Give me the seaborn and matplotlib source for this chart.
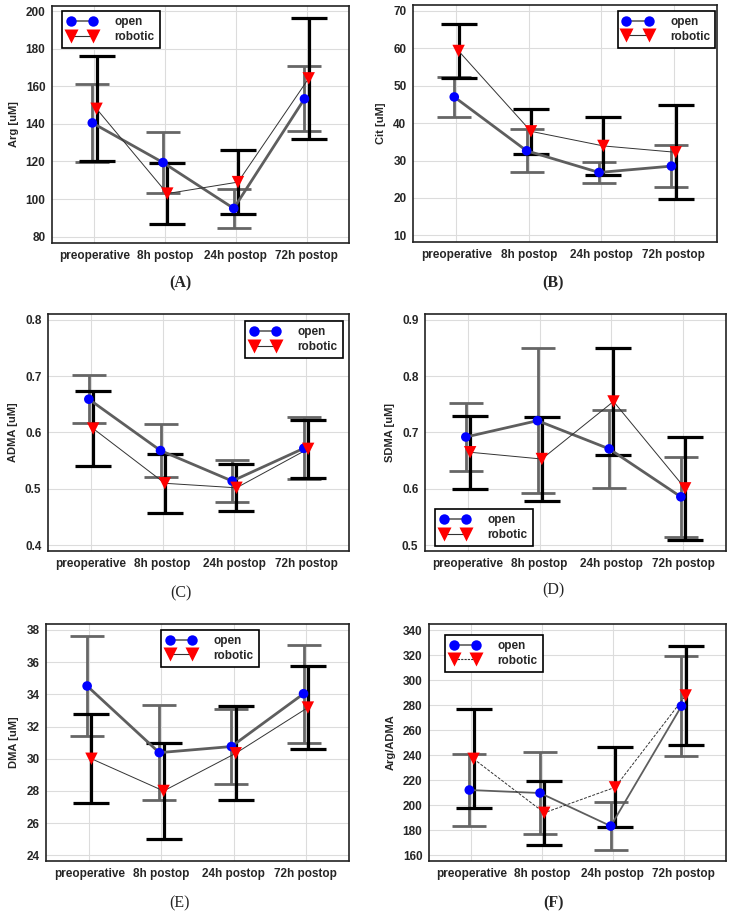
import numpy as np
import pandas as pd
import seaborn as sns
import matplotlib
matplotlib.use("Agg")
import matplotlib.pyplot as plt
from matplotlib.lines import Line2D
from matplotlib.ticker import AutoMinorLocator, MultipleLocator

# ---------------- data ----------------
categories = ["preoperative", "8h postop", "24h postop", "72h postop"]

arg_open = [140.5, 119.4, 95.0, 153.3]
arg_open_err = [20.8, 16.3, 10.4, 17.3]
arg_rob = [148.0, 102.9, 109.0, 164.2]
arg_rob_err = [28.0, 16.0, 17.2, 32.2]

cit_open = [47.0, 32.6, 26.8, 28.5]
cit_open_err = [5.35, 5.8, 2.7, 5.7]
cit_rob = [59.3, 37.8, 33.9, 32.2]
cit_rob_err = [7.25, 6.0, 7.7, 12.6]

adma_open = [0.659, 0.568, 0.514, 0.572]
adma_open_err = [0.043, 0.047, 0.037, 0.055]
adma_rob = [0.607, 0.510, 0.502, 0.571]
adma_rob_err = [0.067, 0.052, 0.042, 0.052]

sdma_open = [0.692, 0.721, 0.671, 0.586]
sdma_open_err = [0.061, 0.128, 0.069, 0.071]
sdma_rob = [0.665, 0.653, 0.755, 0.601]
sdma_rob_err = [0.065, 0.075, 0.095, 0.091]

dma_open = [34.52, 30.38, 30.76, 34.04]
dma_open_err = [3.13, 2.94, 2.35, 3.04]
dma_rob = [30.0, 28.0, 30.34, 33.18]
dma_rob_err = [2.77, 3.01, 2.92, 2.58]

ratio_open = [212.2, 209.8, 183.4, 279.2]
ratio_open_err = [28.5, 32.8, 19.4, 40.2]
ratio_rob = [237.1, 194.0, 214.3, 287.7]
ratio_rob_err = [39.5, 25.6, 32.0, 39.5]

# ---------------- style ----------------
sns.set_style("white")
plt.rcParams["font.family"] = ["Liberation Sans", "DejaVu Sans"]
plt.rcParams["font.weight"] = "bold"

fig = plt.figure(figsize=(7.35, 9.11), dpi=100)
W, H = 735, 911

def axes_px(l, r, t, b):
    return fig.add_axes([l / W, (H - b) / H, (r - l) / W, (b - t) / H])

panels = [
    dict(ax=axes_px(52, 349, 6, 243), ylab="Arg [uM]", o=arg_open, oe=arg_open_err,
         r=arg_rob, re=arg_rob_err, ylim=(76.6, 202.7), major=20,
         leg=dict(loc="upper left", bbox_to_anchor=(0.034, 0.979)),
         cap="(A)", capxy=(180, 283), bold=True, dashed=False, olw=2.0),
    dict(ax=axes_px(413, 717, 5, 242), ylab="Cit [uM]", o=cit_open, oe=cit_open_err,
         r=cit_rob, re=cit_rob_err, ylim=(8.2, 71.6), major=10,
         leg=dict(loc="upper right", bbox_to_anchor=(0.995, 0.975)),
         cap="(B)", capxy=(553, 283), bold=True, dashed=False, olw=2.0),
    dict(ax=axes_px(48, 349, 314, 551), ylab="ADMA [uM]", o=adma_open, oe=adma_open_err,
         r=adma_rob, re=adma_rob_err, ylim=(0.39, 0.81), major=0.1,
         leg=dict(loc="upper right", bbox_to_anchor=(0.980, 0.970)),
         cap="(C)", capxy=(181, 593), bold=False, dashed=False, olw=2.0),
    dict(ax=axes_px(425, 726, 314, 551), ylab="SDMA [uM]", o=sdma_open, oe=sdma_open_err,
         r=sdma_rob, re=sdma_rob_err, ylim=(0.49, 0.91), major=0.1,
         leg=dict(loc="lower left", bbox_to_anchor=(0.033, 0.021)),
         cap="(D)", capxy=(553, 590), bold=False, dashed=False, olw=2.0),
    dict(ax=axes_px(46, 349, 624, 861), ylab="DMA [uM]", o=dma_open, oe=dma_open_err,
         r=dma_rob, re=dma_rob_err, ylim=(23.65, 38.37), major=2,
         leg=dict(loc="upper left", bbox_to_anchor=(0.380, 0.975)),
         cap="(E)", capxy=(180, 903), bold=False, dashed=False, olw=2.0),
    dict(ax=axes_px(429, 726, 624, 861), ylab="Arg/ADMA", o=ratio_open, oe=ratio_open_err,
         r=ratio_rob, re=ratio_rob_err, ylim=(155.5, 344.8), major=20,
         leg=dict(loc="upper left", bbox_to_anchor=(0.054, 0.954)),
         cap="(F)", capxy=(553, 903), bold=True, dashed=True, olw=1.3),
]

GRAY_ERR = "#666666"
OPEN_LINE = "#5e5e5e"
ROB_LINE = "#333333"
x_idx = np.arange(len(categories))
off = 0.03

for p in panels:
    ax = p["ax"]
    df = pd.DataFrame({
        "x": np.concatenate([x_idx - off, x_idx + off]),
        "value": list(p["o"]) + list(p["r"]),
        "err": list(p["oe"]) + list(p["re"]),
        "group": ["open"] * 4 + ["robotic"] * 4,
    })
    do = df[df.group == "open"]
    dr = df[df.group == "robotic"]

    ax.grid(True, color="#dcdcdc", lw=0.8, zorder=0)
    ax.set_axisbelow(True)

    # error bars
    ax.errorbar(do["x"], do["value"], yerr=do["err"], fmt="none", ecolor=GRAY_ERR,
                elinewidth=2.0, capsize=12, capthick=2.0, zorder=2)
    ax.errorbar(dr["x"], dr["value"], yerr=dr["err"], fmt="none", ecolor="black",
                elinewidth=2.3, capsize=13, capthick=2.3, zorder=2.5)

    # lines
    sns.lineplot(data=do, x="x", y="value", color=OPEN_LINE, lw=p["olw"], ax=ax,
                 zorder=3, legend=False, sort=False)
    sns.lineplot(data=dr, x="x", y="value", color=ROB_LINE, lw=0.7, ax=ax,
                 zorder=3.1, legend=False, sort=False)
    if p["dashed"]:
        ax.lines[-1].set_linestyle((0, (3, 1.5)))

    # markers
    sns.scatterplot(data=do, x="x", y="value", marker="o", color="#0000ff", s=48,
                    edgecolor="none", ax=ax, zorder=4, legend=False)
    sns.scatterplot(data=dr, x="x", y="value", marker="v", color="#ff0000", s=80,
                    edgecolor="none", ax=ax, zorder=5, legend=False)

    ax.set_xlim(-0.6, 3.6)
    ax.set_ylim(*p["ylim"])
    ax.set_xticks(x_idx)
    ax.set_xticklabels(categories, fontsize=8.5, fontweight="bold")
    ax.yaxis.set_major_locator(MultipleLocator(p["major"]))
    ax.yaxis.set_minor_locator(AutoMinorLocator(2))
    for lab in ax.get_yticklabels():
        lab.set_fontsize(8.5)
        lab.set_fontweight("bold")
    ax.tick_params(axis="both", which="major", direction="out", length=3.5, width=1.0,
                   color="#222222", pad=1.2, labelsize=8.5)
    ax.tick_params(axis="y", which="minor", direction="out", length=2.2, width=0.8,
                   color="#222222")
    ax.tick_params(axis="x", which="minor", bottom=False)
    ax.set_xlabel("")
    ax.set_ylabel(p["ylab"], fontsize=8, fontweight="bold", labelpad=5)
    for sp in ax.spines.values():
        sp.set_visible(True)
        sp.set_color("#222222")
        sp.set_linewidth(1.2)

    # legend
    h_open = Line2D([], [], color=OPEN_LINE, lw=1.2, marker="o", markersize=7.5,
                    markerfacecolor="#0000ff", markeredgecolor="none")
    h_rob = Line2D([], [], color=ROB_LINE, lw=0.8, marker="v", markersize=10,
                   markerfacecolor="#ff0000", markeredgecolor="none",
                   linestyle=(0, (2, 1)) if p["dashed"] else "-")
    leg = ax.legend([h_open, h_rob], ["open", "robotic"], numpoints=2,
                    handlelength=2.5, handletextpad=1.5, labelspacing=0.2,
                    borderpad=0.45, borderaxespad=0, fancybox=False, framealpha=1,
                    edgecolor="black", prop=dict(size=8.5, weight="bold"), **p["leg"])
    leg.get_frame().set_linewidth(1.2)
    leg.set_zorder(10)

    fig.text(p["capxy"][0] / W, 1 - p["capxy"][1] / H, p["cap"], ha="center", va="center",
             fontsize=11.5, family=["Liberation Serif", "DejaVu Serif"],
             fontweight="bold" if p["bold"] else "normal")

fig.savefig("out.png", dpi=100)
